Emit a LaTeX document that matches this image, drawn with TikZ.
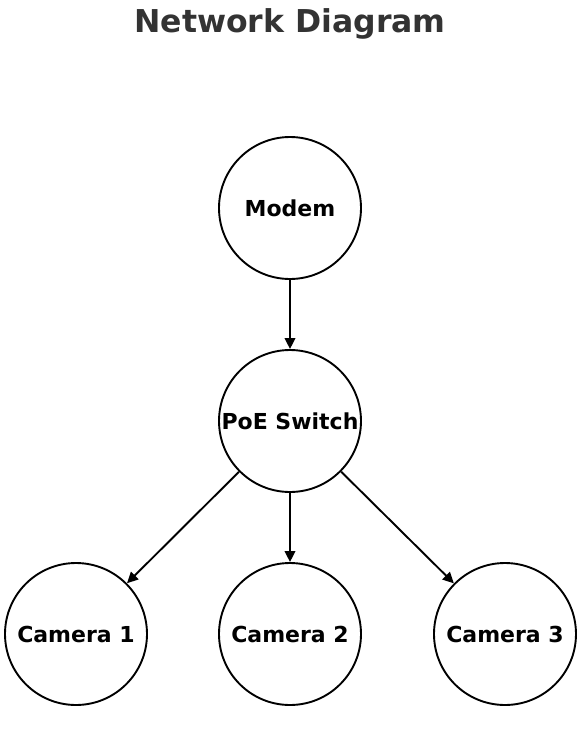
\documentclass[tikz,border=0pt]{standalone}
\usepackage{fontspec}
\setmainfont{DejaVu Sans}
\usetikzlibrary{arrows.meta}
\definecolor{titlegray}{HTML}{333333}
\begin{document}
\begin{tikzpicture}[x=1pt,y=-1pt,
  netnode/.style={circle,draw=black,line width=1.9pt,minimum size=142pt,inner sep=0pt,font=\bfseries\fontsize{22}{24}\selectfont},
  link/.style={line width=1.9pt,-{Triangle[length=11pt,width=10.5pt]}}]
\useasboundingbox (0,0) rectangle (584,740);
\node[font=\bfseries\fontsize{31.5}{34}\selectfont,text=titlegray] (title) at (290,24) {Network Diagram};
\node[netnode] (modem) at (290,208) {Modem};
\node[netnode] (switch) at (290,421) {PoE Switch};
\node[netnode] (cam1) at (76,634) {Camera 1};
\node[netnode] (cam2) at (290,634) {Camera 2};
\node[netnode] (cam3) at (505,634) {Camera 3};
\draw[link] (modem) -- (switch);
\draw[link] (switch) -- (cam1);
\draw[link] (switch) -- (cam2);
\draw[link] (switch) -- (cam3);
\end{tikzpicture}
\end{document}
